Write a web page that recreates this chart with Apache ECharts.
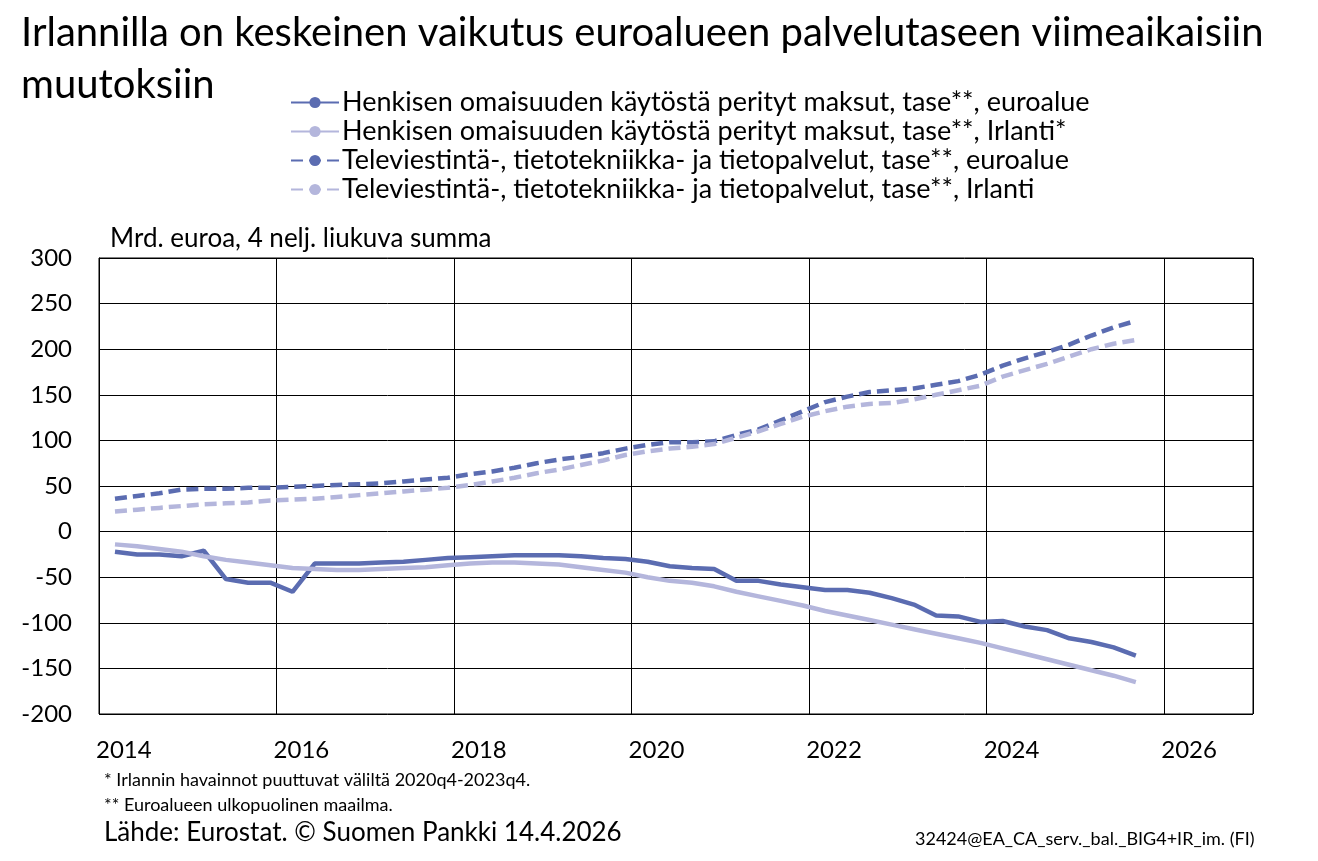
<!DOCTYPE html>
<html><head><meta charset="utf-8">
<script src="https://cdn.jsdelivr.net/npm/echarts@6/dist/echarts.min.js"></script>
<style>html,body{margin:0;padding:0;background:#fff}#c{width:1318px;height:861px}</style>
</head><body><div id="c"></div>
<script>
const startYear = 2014;
const euroHenk = [-22,-25,-25,-27, -21,-52,-56,-56, -66,-35,-35,-35, -34,-33,-31,-29, -28,-27,-26,-26, -26,-27,-29,-30, -33,-38,-40,-41, -54,-54,-58,-61, -64,-64,-67,-73, -80,-92,-93,-99, -98,-104,-108,-117, -121,-127,-136];
const irlHenk = [-14,-16,-19,-22, -27,-31,-34,-37, -40,-41,-42,-42, -41,-40,-39,-37, -35,-34,-34,-35, -36,-39,-42,-45, -50,-54,-56,-60, -66,-71,-76,-81, -87,-92,-97,-102, -107,-112,-117,-122, -128,-134,-140,-146, -152,-158,-165];
const euroTele = [36,39,42,46, 47,47,48,48, 49,50,51,52, 53,55,57,59, 63,66,70,75, 79,82,86,91, 95,98,98,99, 106,112,122,132, 142,148,153,155, 157,161,165,172, 182,190,197,205, 215,224,231];
const irlTele = [22,24,26,28, 30,31,32,34, 35,36,38,40, 42,44,46,48, 51,55,59,64, 68,73,78,84, 88,91,93,96, 103,110,118,126, 132,137,140,141, 145,150,155,160, 170,177,184,192, 200,206,210];
const names = ["Henkisen omaisuuden käytöstä perityt maksut, tase**, euroalue","Henkisen omaisuuden käytöstä perityt maksut, tase**, Irlanti*","Televiestintä-, tietotekniikka- ja tietopalvelut, tase**, euroalue","Televiestintä-, tietotekniikka- ja tietopalvelut, tase**, Irlanti"];
function pts(arr){return arr.map((v,i)=>[startYear+Math.floor(i/4)+(i%4)/4+0.18, v]);}
const dark='#5b6cb1', light='#b4b6dc';
const F='Lato';
const chart=echarts.init(document.getElementById('c'));
chart.setOption({
 backgroundColor:'#fff',
 textStyle:{fontFamily:F},
 title:[{text:'Irlannilla on keskeinen vaikutus euroalueen palvelutaseen viimeaikaisiin\nmuutoksiin',left:16,top:2,textStyle:{fontFamily:F,fontSize:40,fontWeight:'normal',color:'#000',lineHeight:52}}],
 graphic:[
  {type:'text',left:110,top:226,style:{text:'Mrd. euroa, 4 nelj. liukuva summa',font:'26px Lato',fill:'#000'}},
  {type:'text',left:104,top:771,style:{text:'* Irlannin havainnot puuttuvat väliltä 2020q4-2023q4.',font:'18px Lato',fill:'#000'}},
  {type:'text',left:104,top:796,style:{text:'** Euroalueen ulkopuolinen maailma.',font:'18px Lato',fill:'#000'}},
  {type:'text',left:104,top:820,style:{text:'Lähde: Eurostat. © Suomen Pankki 14.4.2026',font:'26px Lato',fill:'#000'}},
  {type:'text',left:915,top:830,style:{text:'32424@EA_CA_serv._bal._BIG4+IR_im. (FI)',font:'18px Lato',fill:'#000'}}
 ],
 legend:{orient:'vertical',left:285,top:84,itemWidth:48,itemHeight:14,itemGap:2,
   textStyle:{fontFamily:F,fontSize:27,color:'#000',padding:[0,0,0,-2]},data:names},
 grid:{left:99,right:65,top:258,bottom:147,show:true,borderColor:'#000',borderWidth:1},
 xAxis:{type:'value',min:2014,max:2027,interval:2,
   axisLine:{show:false},axisTick:{show:false},
   splitLine:{show:true,lineStyle:{color:'#000',width:1}},
   axisLabel:{fontFamily:F,fontSize:24,color:'#000',margin:24,align:'left',padding:[0,0,0,-3],
     showMaxLabel:false,formatter:v=>(v%2===0&&v<=2026)?String(v):''}},
 yAxis:{type:'value',min:-200,max:300,interval:50,
   axisLine:{show:true,lineStyle:{color:'#000'}},axisTick:{show:false},
   splitLine:{lineStyle:{color:'#000',width:1}},
   axisLabel:{fontFamily:F,fontSize:24,color:'#000',margin:27}},
 series:[
  {name:names[0],type:'line',symbol:'none',data:pts(euroHenk),lineStyle:{color:dark,width:4.5},itemStyle:{color:dark}},
  {name:names[1],type:'line',symbol:'none',data:pts(irlHenk),lineStyle:{color:light,width:4.5},itemStyle:{color:light}},
  {name:names[2],type:'line',symbol:'none',data:pts(euroTele),lineStyle:{color:dark,width:4.5,type:[12,6]},itemStyle:{color:dark}},
  {name:names[3],type:'line',symbol:'none',data:pts(irlTele),lineStyle:{color:light,width:4.5,type:[12,6]},itemStyle:{color:light}}
 ]
});
</script></body></html>
